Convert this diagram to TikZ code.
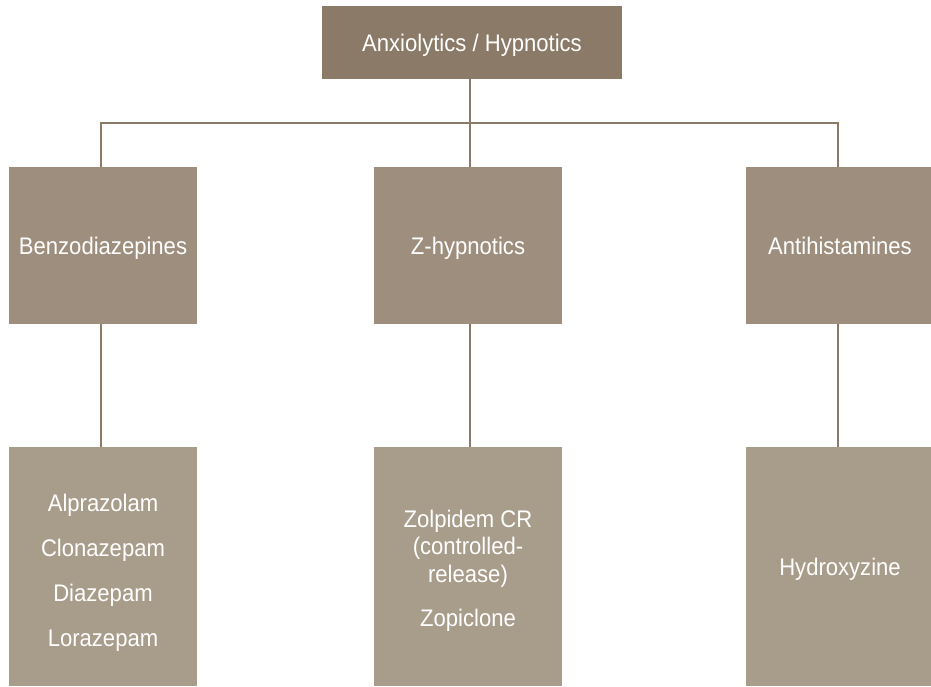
\documentclass[tikz,border=0pt]{standalone}
\usepackage{fontspec}
\setmainfont{Liberation Sans}[FakeStretch=0.92]
\definecolor{topc}{HTML}{8A7A67}
\definecolor{midc}{HTML}{9D8E7D}
\definecolor{botc}{HTML}{A89C8B}
\definecolor{linec}{HTML}{8B7A67}
\tikzset{
  txt/.style={inner sep=0pt, text=white, align=center,
    font=\fontsize{24}{27.5}\selectfont},
  box/.style={txt, draw=none},
  oneline/.style={text height=17.4pt, text depth=0pt},
  topbox/.style={box, oneline, fill=topc, minimum width=300pt, minimum height=73pt},
  midbox/.style={box, oneline, fill=midc, minimum width=188pt, minimum height=157pt},
  botbox/.style={box, fill=botc, minimum width=188pt, minimum height=239pt},
  conn/.style={draw=linec, line width=2.8pt}
}
\begin{document}
\begin{tikzpicture}[x=1pt,y=1pt]
\useasboundingbox (0,0) rectangle (931,-686);
\coordinate (colL) at (101,0);
\coordinate (colM) at (470,0);
\coordinate (colR) at (838,0);
\node[topbox] (top) at (472,-42.5) {Anxiolytics / Hypnotics};
\node[midbox] (benz) at (103,-245.5) {Benzodiazepines};
\node[midbox] (zhyp) at (468,-245.5) {Z-hypnotics};
\node[midbox] (anti) at (840,-245.5) {Antihistamines};
\node[botbox, label={[txt, yshift=-6pt]center:{Alprazolam\\[17.5pt]Clonazepam\\[17.5pt]Diazepam\\[17.5pt]Lorazepam}}] (benzl) at (103,-566.5) {};
\node[botbox, label={[txt, yshift=-4pt]center:{Zolpidem CR\\(controlled-\\release)\\[16.5pt]Zopiclone}}] (zhypl) at (468,-566.5) {};
\node[botbox, oneline] (antil) at (840,-566.5) {Hydroxyzine};
\coordinate (bus) at (470,-123);
\draw[conn] (top.south -| colM) -- (bus);
\draw[conn] (benz.north -| colL) |- (bus) -| (anti.north -| colR);
\draw[conn] (bus) -- (zhyp.north -| colM);
\draw[conn] (benz.south -| colL) -- (benzl.north -| colL);
\draw[conn] (zhyp.south -| colM) -- (zhypl.north -| colM);
\draw[conn] (anti.south -| colR) -- (antil.north -| colR);
\end{tikzpicture}
\end{document}
